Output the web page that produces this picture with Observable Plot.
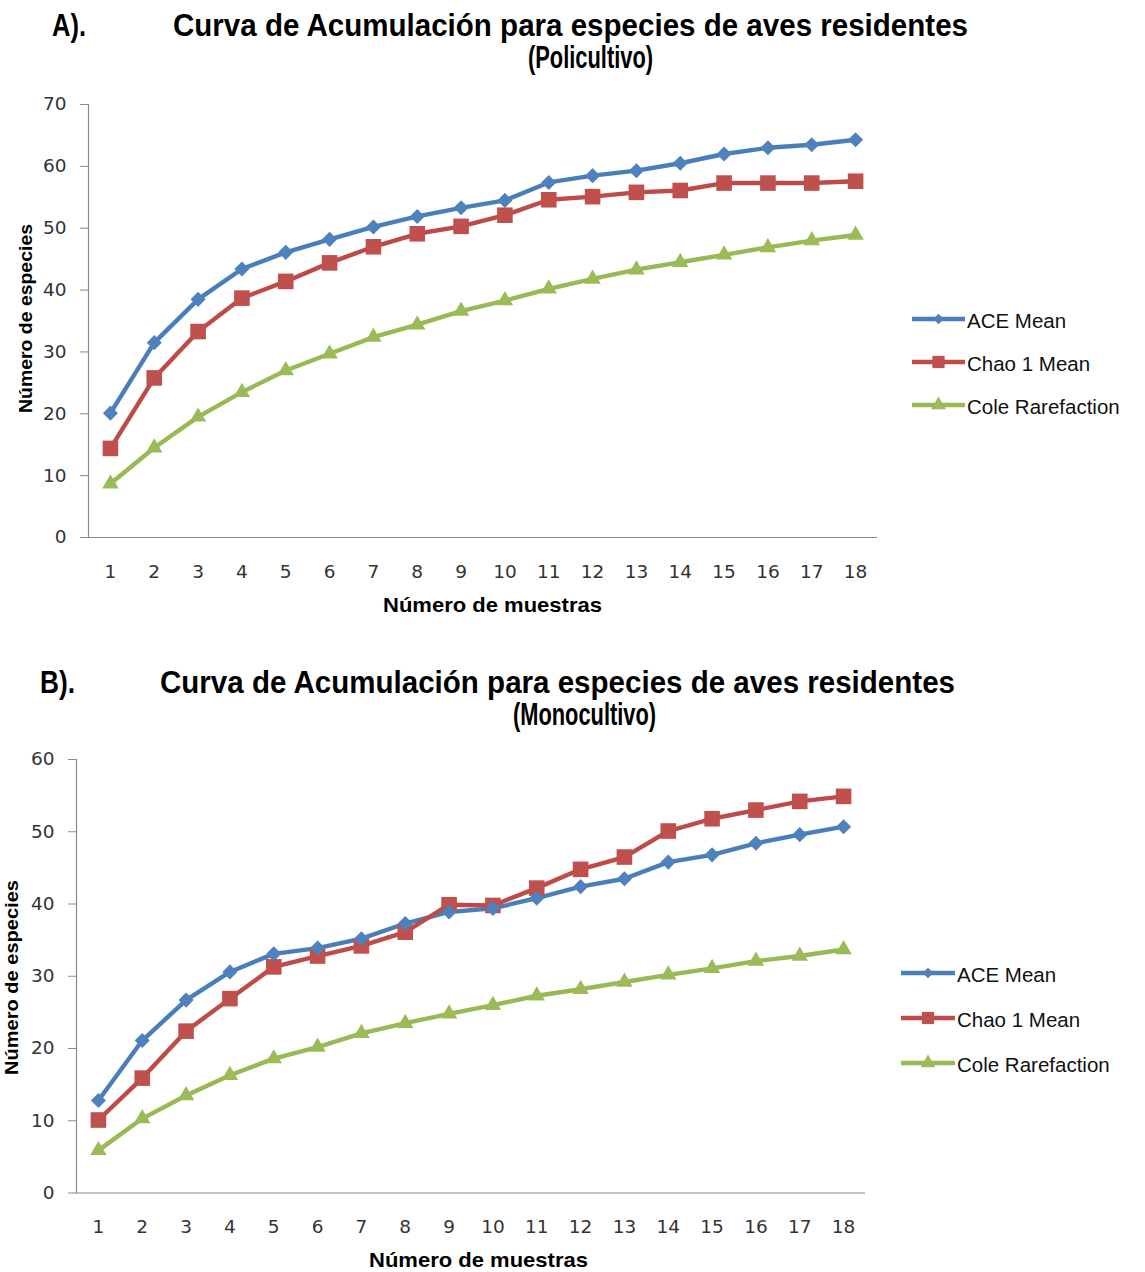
<!DOCTYPE html>
<html lang="es">
<head>
<meta charset="utf-8">
<title>Curvas de acumulación de especies de aves residentes</title>
<script src="https://cdn.jsdelivr.net/npm/d3@7"></script>
<script src="https://cdn.jsdelivr.net/npm/@observablehq/plot@0.6"></script>
<style>
  html, body { margin: 0; padding: 0; background: #fff; }
  #root { position: relative; width: 1145px; height: 1272px; overflow: hidden; background: #fff; }
  #root svg { position: absolute; }
</style>
</head>
<body>
<div id="root"></div>
<script>
// Número de muestras (eje X)
const muestras = [1, 2, 3, 4, 5, 6, 7, 8, 9, 10, 11, 12, 13, 14, 15, 16, 17, 18];

// Estimadores y serie
const series = ["ACE Mean", "Chao 1 Mean", "Cole Rarefaction"];

// A) Policultivo
const aceA  = [20.1, 31.5, 38.5, 43.4, 46.1, 48.2, 50.2, 51.9, 53.3, 54.5, 57.4, 58.5, 59.3, 60.5, 62.0, 63.0, 63.5, 64.3];
const chaoA = [14.4, 25.8, 33.3, 38.7, 41.4, 44.4, 47.0, 49.1, 50.3, 52.1, 54.6, 55.1, 55.8, 56.1, 57.3, 57.3, 57.3, 57.6];
const coleA = [8.7, 14.5, 19.5, 23.5, 27.0, 29.7, 32.4, 34.4, 36.6, 38.3, 40.2, 41.8, 43.3, 44.5, 45.7, 46.9, 48.0, 48.9];
const yTicksA = [0, 10, 20, 30, 40, 50, 60, 70];

// B) Monocultivo
const aceB  = [12.8, 21.1, 26.7, 30.6, 33.1, 33.9, 35.2, 37.3, 38.9, 39.4, 40.8, 42.4, 43.5, 45.8, 46.8, 48.4, 49.6, 50.7];
const chaoB = [10.1, 15.9, 22.4, 26.9, 31.3, 32.8, 34.2, 36.1, 39.9, 39.8, 42.2, 44.8, 46.5, 50.1, 51.8, 53.0, 54.2, 54.9];
const coleB = [5.9, 10.3, 13.5, 16.3, 18.6, 20.2, 22.1, 23.5, 24.8, 26.0, 27.3, 28.2, 29.2, 30.2, 31.1, 32.1, 32.8, 33.7];
const yTicksB = [0, 10, 20, 30, 40, 50, 60];

// Estilo de cada serie
const lineColors   = ["#4a7ebb", "#be4b48", "#98b954"];
const markerColors = ["#4f81bd", "#c0504d", "#9bbb59"];
const symbols      = [d3.symbolDiamond2, d3.symbolSquare, d3.symbolTriangle];
const markerR      = { "ACE Mean": 6.8, "Chao 1 Mean": 8.8, "Cole Rarefaction": 6.1 };

const root = document.getElementById("root");
const titleFont = "'Liberation Sans Narrow', 'Liberation Sans', Arial, sans-serif";
const textFont = "'Liberation Sans', Arial, sans-serif";

function toRows(ace, chao, cole) {
  const rows = [];
  [ace, chao, cole].forEach((vals, i) => {
    vals.forEach((v, j) => rows.push({ muestra: muestras[j], valor: v, serie: series[i] }));
  });
  return rows;
}

function chart(rows, yTicks, o) {
  const svg = Plot.plot({
    width: o.width,
    height: o.height,
    marginLeft: o.marginLeft,
    marginRight: o.marginRight,
    marginTop: o.marginTop,
    marginBottom: o.marginBottom,
    style: { fontFamily: "'DejaVu Sans', Verdana, sans-serif", fontSize: "18.5px", color: "#333", background: "transparent" },
    x: { type: "point", domain: muestras, padding: 0.5, round: false, label: null },
    y: { domain: [yTicks[0], yTicks[yTicks.length - 1]], label: null },
    color: { domain: series, range: lineColors },
    symbol: { domain: series, range: symbols },
    r: { type: "identity" },
    marks: [
      Plot.axisY({ ticks: yTicks, tickSize: 8, tickPadding: 14, stroke: "#8a8a8a", label: null }),
      Plot.axisX({ tickSize: 0, tickPadding: 27, label: null }),
      Plot.frame({ anchor: "left", stroke: "#8a8a8a", strokeWidth: 1.2 }),
      Plot.ruleY([yTicks[0]], { stroke: "#8a8a8a", strokeWidth: 1.2 }),
      Plot.line(rows, { x: "muestra", y: "valor", z: "serie", stroke: "serie", strokeWidth: 4.4, strokeLinejoin: "round" }),
      Plot.dot(rows, {
        x: "muestra", y: "valor", symbol: "serie",
        fill: d => markerColors[series.indexOf(d.serie)],
        r: d => markerR[d.serie]
      })
    ]
  });
  svg.style.left = o.left + "px";
  svg.style.top = o.top + "px";
  root.appendChild(svg);
}

// Texto HTML posicionado por su línea base, ajustado a una longitud dada
function addText(txt, o) {
  const el = document.createElement("div");
  el.textContent = txt;
  el.style.cssText = `position:absolute;left:0;top:0;white-space:nowrap;line-height:1;` +
    `font:${o.weight || "normal"} ${o.size}px ${o.family};color:${o.color || "#000"};transform-origin:0 0;`;
  root.appendChild(el);
  const w = el.getBoundingClientRect().width;
  const sx = o.length ? o.length / w : 1;
  const L = w * sx;
  const asc = 0.8465 * o.size;
  if (o.rotate) {
    el.style.left = (o.x - asc) + "px";
    el.style.top = (o.y + L / 2) + "px";
    el.style.transform = `rotate(-90deg) scaleX(${sx})`;
  } else {
    const left = o.anchor === "middle" ? o.x - L / 2 : o.x;
    el.style.left = left + "px";
    el.style.top = (o.y - asc) + "px";
    el.style.transform = `scaleX(${sx})`;
  }
}

// Leyenda: línea con su marcador y el nombre de la serie
function legend(x0, lineLen, textX, rowsY) {
  const sizes = [70, 150, 95];
  series.forEach((name, i) => {
    const y = rowsY[i];
    const g = d3.create("svg")
      .attr("width", lineLen + 10).attr("height", 24)
      .style("left", (x0 - 5) + "px").style("top", (y - 12) + "px");
    g.append("line")
      .attr("x1", 5).attr("x2", 5 + lineLen).attr("y1", 12).attr("y2", 12)
      .attr("stroke", lineColors[i]).attr("stroke-width", 4.4);
    g.append("path")
      .attr("transform", `translate(${5 + lineLen / 2},12)`)
      .attr("d", d3.symbol(symbols[i], sizes[i])())
      .attr("fill", markerColors[i]);
    root.appendChild(g.node());
    addText(name, { x: textX, y: y + 7, size: 20.5, family: textFont, color: "#111" });
  });
}

// ---------- A) Policultivo ----------
chart(toRows(aceA, chaoA, coleA), yTicksA, {
  left: 0, top: 90, width: 900, height: 530,
  marginLeft: 88, marginRight: 23, marginTop: 14, marginBottom: 83
});
addText("A).", { x: 52, y: 34, size: 31, weight: "bold", family: titleFont, length: 34 });
addText("Curva de Acumulación para especies de aves residentes", { x: 570, y: 34, anchor: "middle", size: 31, weight: "bold", family: titleFont, length: 795 });
addText("(Policultivo)", { x: 590, y: 66, anchor: "middle", size: 31, weight: "bold", family: titleFont, length: 125 });
addText("Número de especies", { x: 31, y: 318, rotate: true, size: 19, weight: "bold", family: titleFont, length: 189 });
addText("Número de muestras", { x: 492, y: 611, anchor: "middle", size: 21, weight: "bold", family: titleFont, length: 219 });
legend(912, 53, 967, [319, 362, 405]);

// ---------- B) Monocultivo ----------
chart(toRows(aceB, chaoB, coleB), yTicksB, {
  left: 0, top: 745, width: 890, height: 527,
  marginLeft: 76, marginRight: 25, marginTop: 14, marginBottom: 79.5
});
addText("B).", { x: 40, y: 691, size: 31, weight: "bold", family: titleFont, length: 35 });
addText("Curva de Acumulación para especies de aves residentes", { x: 557, y: 691, anchor: "middle", size: 31, weight: "bold", family: titleFont, length: 795 });
addText("(Monocultivo)", { x: 584, y: 723, anchor: "middle", size: 31, weight: "bold", family: titleFont, length: 143 });
addText("Número de especies", { x: 17.5, y: 977, rotate: true, size: 19, weight: "bold", family: titleFont, length: 195 });
addText("Número de muestras", { x: 478, y: 1266, anchor: "middle", size: 21, weight: "bold", family: titleFont, length: 219 });
legend(901, 54, 957, [973, 1018, 1063]);
</script>
</body>
</html>
